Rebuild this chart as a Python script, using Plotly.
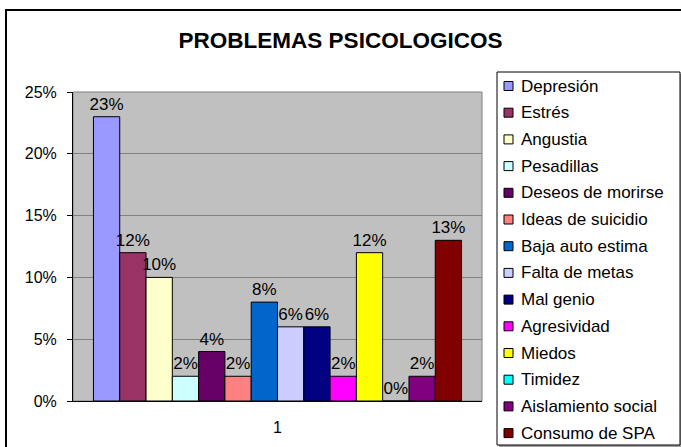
import plotly.graph_objects as go

# data
categories = ['1']
problemas = ['Depresión', 'Estrés', 'Angustia', 'Pesadillas', 'Deseos de morirse',
             'Ideas de suicidio', 'Baja auto estima', 'Falta de metas', 'Mal genio',
             'Agresividad', 'Miedos', 'Timidez', 'Aislamiento social', 'Consumo de SPA']
porcentajes = [0.23, 0.12, 0.10, 0.02, 0.04, 0.02, 0.08, 0.06, 0.06, 0.02, 0.12, 0.00, 0.02, 0.13]
colores = ['#9999FF', '#993366', '#FFFFCC', '#CCFFFF', '#660066', '#FF8080', '#0066CC',
           '#CCCCFF', '#000080', '#FF00FF', '#FFFF00', '#00FFFF', '#800080', '#800000']

FONT = 'Arial, Liberation Sans, sans-serif'

fig = go.Figure()
for name, val, col in zip(problemas, porcentajes, colores):
    fig.add_trace(go.Bar(
        x=categories, y=[val], name=name,
        marker=dict(color=col, line=dict(color='black', width=1)),
        texttemplate='%{y:.0%}', textposition='outside', constraintext='none',
        textfont=dict(size=17, color='black', family=FONT),
        cliponaxis=False, hoverinfo='name+y'))

# plot area: x 73..482, y 92..401 (pixels)
L, R, T, B = 73, 482, 92, 401
W, H = 681, 447

def px(x):
    return (x - L) / (R - L)

def py(y):
    return (B - y) / (B - T)

fig.update_layout(
    width=W, height=H,
    margin=dict(l=L, r=W - R, t=T, b=H - B, pad=0),
    paper_bgcolor='white', plot_bgcolor='#C0C0C0',
    font=dict(family=FONT, color='black'),
    barmode='group', bargap=0.1, bargroupgap=0,
    showlegend=False,
    title=dict(text='<b>PROBLEMAS PSICOLOGICOS</b>', x=0.5, xanchor='center',
               y=1 - 40 / H, yanchor='middle', font=dict(size=22.5, color='black')),
    xaxis=dict(showgrid=False, showline=True, linecolor='black', linewidth=1,
               tickfont=dict(size=16), ticks='', ticklabelstandoff=12,
               fixedrange=True),
    yaxis=dict(range=[0, 0.25], dtick=0.05, tickformat='.0%', showgrid=True,
               gridcolor='#808080', gridwidth=1, zeroline=False,
               showline=True, linecolor='black', linewidth=1,
               ticks='outside', ticklen=5, tickcolor='black',
               ticklabelstandoff=7, tickfont=dict(size=16), fixedrange=True),
)

# top/right border of plot area
fig.add_shape(type='rect', xref='paper', yref='paper', x0=0, x1=1, y0=0, y1=1,
              line=dict(color='#808080', width=1), layer='below')
# outer chart frame
fig.add_shape(type='rect', xref='paper', yref='paper',
              x0=px(6), x1=px(690), y0=py(456), y1=py(10),
              line=dict(color='black', width=2))

# legend box (Excel style) with a light shadow
fig.add_shape(type='rect', xref='paper', yref='paper',
              x0=px(499), x1=px(682), y0=py(447), y1=py(74),
              line=dict(width=0), fillcolor='#A0A0A0')
fig.add_shape(type='rect', xref='paper', yref='paper',
              x0=px(497), x1=px(680), y0=py(445), y1=py(72),
              line=dict(color='black', width=1), fillcolor='white')
for i, (name, col) in enumerate(zip(problemas, colores)):
    yc = 86 + i * 26.7
    fig.add_shape(type='rect', xref='paper', yref='paper',
                  x0=px(504), x1=px(513), y0=py(yc + 4.5), y1=py(yc - 4.5),
                  line=dict(color='black', width=1), fillcolor=col)
    fig.add_annotation(text=name, xref='paper', yref='paper',
                       x=px(519), y=py(yc), xanchor='left', yanchor='middle',
                       showarrow=False, font=dict(size=17, color='black'))

# page has a default body margin; drop it so the chart sits at the window corner
fig.write_html('out.html', config={'displayModeBar': False},
               post_script="document.body.style.margin='0';")
